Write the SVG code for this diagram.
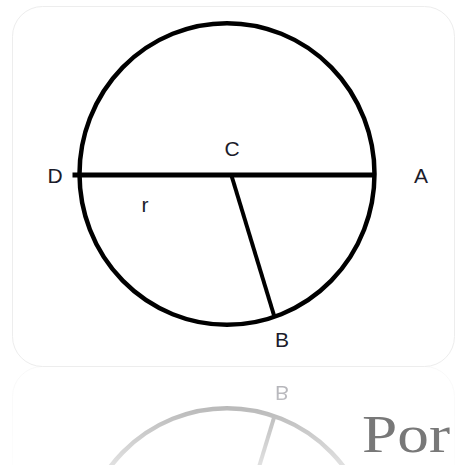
<svg xmlns="http://www.w3.org/2000/svg" xmlns:xlink="http://www.w3.org/1999/xlink" width="460" height="465" viewBox="0 0 460 465">
  <style>
    .lbl { font-family: "Liberation Sans", Arial, sans-serif; font-size: 21px; fill: #1b1b2a; text-anchor: middle; }
    .stroke { fill: none; stroke: #000; stroke-linecap: butt; }
  </style>
  <defs>
    <linearGradient id="fade" x1="0" y1="366" x2="0" y2="465" gradientUnits="userSpaceOnUse">
      <stop offset="0" stop-color="#fff" stop-opacity="0.38"/>
      <stop offset="1" stop-color="#fff" stop-opacity="0.12"/>
    </linearGradient>
    <mask id="reflMask" maskUnits="userSpaceOnUse" x="0" y="366" width="460" height="99">
      <rect x="0" y="366" width="460" height="99" fill="url(#fade)"/>
    </mask>
  </defs>
  <rect width="460" height="465" fill="#fff"/>
  <g id="diagram">
    <rect id="card" x="12.5" y="6.5" width="442" height="360" rx="30" fill="#fff" stroke="#ededed" stroke-width="1"/>
    <g id="circle">
      <ellipse class="stroke" cx="227" cy="174" rx="147.5" ry="150.8" stroke-width="4.5"/>
    </g>
    <g id="connectors">
      <line class="stroke" x1="72.5" y1="175" x2="374" y2="175" stroke-width="5"/>
      <line class="stroke" x1="231" y1="174" x2="274.5" y2="317" stroke-width="4"/>
    </g>
    <g id="node-C"><text class="lbl" x="232" y="156">C</text></g>
    <g id="node-D"><text class="lbl" x="55" y="183">D</text></g>
    <g id="node-A"><text class="lbl" x="421" y="183">A</text></g>
    <g id="node-r"><text class="lbl" x="145" y="212">r</text></g>
    <g id="node-B"><text class="lbl" x="282" y="347">B</text></g>
  </g>
  <g id="reflection" mask="url(#reflMask)">
    <use xlink:href="#diagram" href="#diagram" transform="translate(0,733) scale(1,-1)"/>
  </g>
  <text x="362" y="452" font-family="'Liberation Serif', 'Times New Roman', serif" font-size="52" fill="#787878" textLength="88" lengthAdjust="spacingAndGlyphs">Por</text>
</svg>
